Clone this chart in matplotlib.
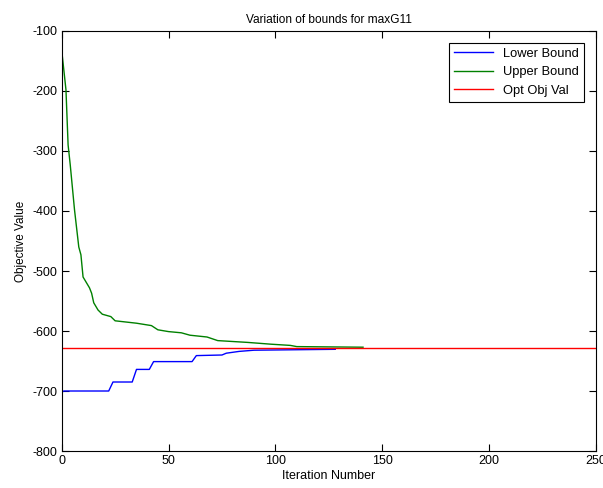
import numpy as np
import matplotlib
matplotlib.use('Agg')
import matplotlib.pyplot as plt

# values
lower_iter = [0, 1, 22, 24, 33, 35, 41, 43, 61, 63, 75, 77, 83, 90, 128]
lower_val = [-702, -700, -700, -685, -685, -664, -664, -651, -651, -641, -640, -637, -634, -632, -630.5]

upper_iter = [0, 0, 2, 3, 4, 6, 8, 9, 10, 13, 14, 15, 17, 19, 23, 25, 35, 42, 45, 50, 56,
              60, 68, 73, 87, 98, 107, 110, 141]
upper_val = [-100, -132, -198, -290, -323, -398, -460, -473, -510, -528, -537, -553, -565,
             -572, -576, -583, -587, -591, -598, -601, -603, -607, -610, -616, -619, -622,
             -624, -626, -627]

opt_val = -629

plt.rcParams['font.family'] = ['Liberation Sans', 'DejaVu Sans']
plt.rcParams['font.size'] = 8.5
plt.rcParams['axes.unicode_minus'] = False

fig = plt.figure(figsize=(6.03, 4.88), dpi=100)
ax = fig.add_axes([0.1023, 0.0758, 0.8861, 0.8607])

ax.plot(lower_iter, lower_val, color=(0, 0, 1), lw=1.0, label='Lower Bound')
ax.plot(upper_iter, upper_val, color=(0, 0.5, 0), lw=1.0, label='Upper Bound')
ax.axhline(opt_val, color=(1, 0, 0), lw=1.0, label='Opt Obj Val')

ax.set_xlim(0, 250)
ax.set_ylim(-800, -100)
ax.set_xticks(np.arange(0, 251, 50))
ax.set_yticks(np.arange(-800, -99, 100))
ax.tick_params(direction='in', top=True, right=True, length=5, width=0.8, pad=3,
               labelsize=9)
for s in ax.spines.values():
    s.set_linewidth(0.8)

ax.set_title('Variation of bounds for maxG11', pad=6, fontsize=8.6)
ax.set_xlabel('Iteration Number', labelpad=2, fontsize=9)
ax.set_ylabel('Objective Value', labelpad=4, fontsize=8.5)

leg = ax.legend(loc='upper right', fancybox=False, framealpha=1, edgecolor='black',
                handlelength=3.0, borderaxespad=0.9, labelspacing=0.5, fontsize=9.3)
leg.get_frame().set_linewidth(0.8)

fig.savefig('out.png', dpi=100)
